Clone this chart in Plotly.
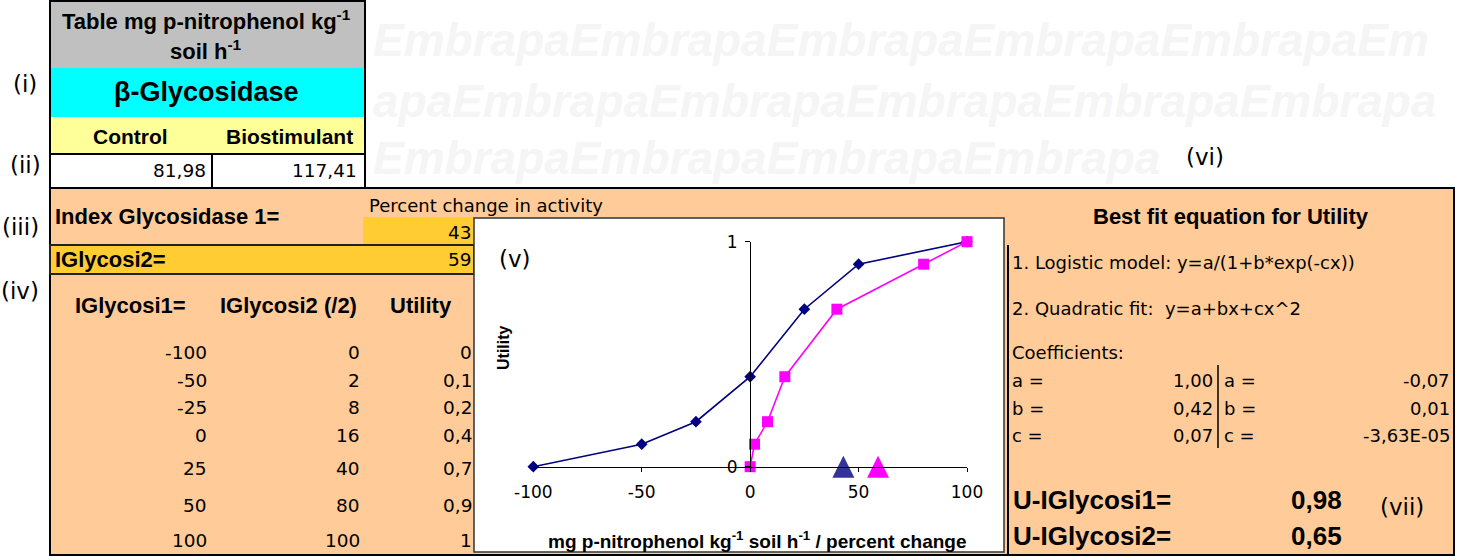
import plotly.graph_objects as go

W, H = 1457, 556

# ---------------- data ----------------
ig1_values = [-100, -50, -25, 0, 25, 50, 100]
ig2_values = [0, 2, 8, 16, 40, 80, 100]
utility_values = [0, 0.1, 0.2, 0.4, 0.7, 0.9, 1]
index1_value = 43
index2_value = 59
control_value = 81.98
biostim_value = 117.41
logistic_coefs = [1.00, 0.42, 0.07]
quadratic_coefs = ["-0,07", "0,01", "-3,63E-05"]
coef_names = ["a =", "b =", "c ="]
u_ig1 = 0.98
u_ig2 = 0.65
x_ticks = [-100, -50, 0, 50, 100]
y_ticks = [0, 1]

REG = "DejaVu Sans"
BOLD = "Liberation Sans"


def fmt(v, d=None):
    s = (f"{v:.{d}f}" if d is not None else f"{v:g}")
    return s.replace(".", ",")


def X(px):
    return px / W


def Y(py):
    return 1 - py / H


shapes = []


def rect(x0, y0, x1, y1, fill, lc=None, lw=0):
    shapes.append(dict(type="rect", xref="paper", yref="paper",
                       x0=X(x0), x1=X(x1), y0=Y(y1), y1=Y(y0),
                       fillcolor=fill, layer="below",
                       line=dict(color=lc or "rgba(0,0,0,0)", width=lw)))


def line(x0, y0, x1, y1, lc="black", lw=2):
    shapes.append(dict(type="line", xref="paper", yref="paper",
                       x0=X(x0), x1=X(x1), y0=Y(y0), y1=Y(y1), layer="below",
                       line=dict(color=lc, width=lw)))


annotations = []


def txt(s, px, py, size, bold=False, anchor="left", color="black", family=None, angle=0, italic=False):
    fam = family or (BOLD if bold else REG)
    if bold:
        s = f"<b>{s}</b>"
    if italic:
        s = f"<i>{s}</i>"
    annotations.append(dict(text=s, x=X(px), y=Y(py), xref="paper", yref="paper",
                            xanchor=anchor, yanchor="middle", showarrow=False,
                            textangle=angle, borderpad=0,
                            font=dict(family=fam, size=size, color=color)))


# ---------------- watermark ----------------
wm = "#F5F5F5"
txt("EmbrapaEmbrapaEmbrapaEmbrapaEmbrapaEm", 372, 40, 46, bold=True, italic=True, color=wm)
txt("apaEmbrapaEmbrapaEmbrapaEmbrapaEmbrapa", 372, 101, 46, bold=True, italic=True, color=wm)
txt("EmbrapaEmbrapaEmbrapaEmbrapa", 372, 158, 46, bold=True, italic=True, color=wm)

# ---------------- top table ----------------
rect(50, 0, 365, 68, "#C0C0C0")
rect(50, 68, 365, 117, "#00FFFF")
rect(50, 117, 365, 154, "#FFFF99")
rect(50, 154, 365, 188, "white")
rect(50, 1, 365, 188, "rgba(0,0,0,0)", "black", 2)
line(50, 154, 365, 154)
line(212, 154, 212, 188)

txt("Table mg p-nitrophenol kg<sup>-1</sup>", 206, 20, 22, bold=True, anchor="center")
txt("soil h<sup>-1</sup>", 206, 50, 22, bold=True, anchor="center")
txt("β-Glycosidase", 206, 92, 27, bold=True, anchor="center")
txt("Control", 130, 136, 21, bold=True, anchor="center")
txt("Biostimulant", 289, 136, 21, bold=True, anchor="center")
txt(fmt(control_value, 2), 207, 170, 18.5, anchor="right")
txt(fmt(biostim_value, 2), 358, 170, 18.5, anchor="right")

# ---------------- orange panel ----------------
rect(50, 188, 1454, 555, "#FFCC99", "black", 2)
rect(363, 217, 474, 245, "#FFCC33")
rect(50, 245, 474, 274, "#FFCC33", "#222222", 2)
rect(474, 218, 1004, 552, "white", "#333333", 1.5)
line(1008, 245, 1008, 555)
line(1218, 365, 1218, 448, lw=1.5)

txt("Index Glycosidase 1=", 54, 216, 22, bold=True)
txt("Percent change in activity", 368, 206, 18)
txt(fmt(index1_value), 473, 232, 18.5, anchor="right")
txt("IGlycosi2=", 54, 259, 22, bold=True)
txt(fmt(index2_value), 473, 259, 18.5, anchor="right")

txt("IGlycosi1=", 130, 305, 22, bold=True, anchor="center")
txt("IGlycosi2 (/2)", 288, 305, 22, bold=True, anchor="center")
txt("Utility", 421, 305, 22, bold=True, anchor="center")

row_y = [352, 380, 407, 435, 468, 505, 540]
for a, b, u, ry in zip(ig1_values, ig2_values, utility_values, row_y):
    txt(fmt(a), 208, ry, 18.5, anchor="right")
    txt(fmt(b), 361, ry, 18.5, anchor="right")
    txt(fmt(u), 473, ry, 18.5, anchor="right")

# labels
txt("(i)", 25, 84, 23, anchor="center")
txt("(ii)", 25, 165, 23, anchor="center")
txt("(iii)", 20, 227, 23, anchor="center")
txt("(iv)", 20, 291, 23, anchor="center")
txt("(v)", 515, 259, 23, anchor="center")
txt("(vi)", 1205, 157, 23, anchor="center")
txt("(vii)", 1402, 507, 23, anchor="center")

# ---------------- right panel ----------------
txt("Best fit equation for Utility", 1231, 216, 22, bold=True, anchor="center")
txt("1. Logistic model: y=a/(1+b*exp(-cx))", 1011, 262, 18)
txt("2. Quadratic fit:  y=a+bx+cx^2", 1011, 308, 18)
txt("Coefficients:", 1011, 352, 18)
coef_y = [380, 408, 435]
for name, lv, qv, cy in zip(coef_names, logistic_coefs, quadratic_coefs, coef_y):
    txt(name, 1011, cy, 18)
    txt(fmt(lv, 2), 1214, cy, 18, anchor="right")
    txt(name, 1223, cy, 18)
    txt(qv, 1451, cy, 18, anchor="right")
txt("U-IGlycosi1=", 1012, 500, 26, bold=True)
txt(fmt(u_ig1, 2), 1343, 500, 26, bold=True, anchor="right")
txt("U-IGlycosi2=", 1012, 536, 26, bold=True)
txt(fmt(u_ig2, 2), 1343, 536, 26, bold=True, anchor="right")

# chart titles
txt("Utility", 503, 348, 16, bold=True, anchor="center", angle=-90)
txt("mg p-nitrophenol kg<sup>-1</sup> soil h<sup>-1</sup> / percent change", 757, 540, 19,
    bold=True, anchor="center")

# ---------------- chart ----------------
xdom = [X(533.3), X(967)]
ydom = [Y(466.7), Y(241.7)]
xr = [-100, 100]
ypos = xdom[0] + (0 - xr[0]) / (xr[1] - xr[0]) * (xdom[1] - xdom[0])

fig = go.Figure()
fig.add_trace(go.Scatter(x=ig1_values, y=utility_values, mode="lines+markers",
                         line=dict(color="#000080", width=1.6),
                         marker=dict(symbol="diamond", size=9, color="#000080"),
                         cliponaxis=False, showlegend=False))
fig.add_trace(go.Scatter(x=ig2_values, y=utility_values, mode="lines+markers",
                         line=dict(color="#FF00FF", width=1.6),
                         marker=dict(symbol="square", size=11, color="#FF00FF"),
                         cliponaxis=False, showlegend=False))
fig.add_trace(go.Scatter(x=[index1_value], y=[0], mode="markers",
                         marker=dict(symbol="arrow-down", angle=180, standoff=11, size=22,
                                     color="#333399"),
                         cliponaxis=False, showlegend=False))
fig.add_trace(go.Scatter(x=[index2_value], y=[0], mode="markers",
                         marker=dict(symbol="arrow-down", angle=180, standoff=11, size=22,
                                     color="#FF00FF"),
                         cliponaxis=False, showlegend=False))

fig.update_layout(
    width=W, height=H, margin=dict(l=0, r=0, t=0, b=0, autoexpand=False),
    paper_bgcolor="white", plot_bgcolor="rgba(0,0,0,0)",
    shapes=shapes, annotations=annotations, showlegend=False,
    xaxis=dict(domain=xdom, range=xr, showline=True, linecolor="black", linewidth=1.3,
               ticks="outside", ticklen=4, tickcolor="black", tickvals=x_ticks,
               ticktext=[fmt(v) for v in x_ticks], ticklabelstandoff=6,
               tickfont=dict(family=REG, size=17, color="black"),
               showgrid=False, zeroline=False, fixedrange=True),
    yaxis=dict(domain=ydom, range=[0, 1], anchor="free", position=ypos,
               showline=True, linecolor="black", linewidth=1.3,
               ticks="outside", ticklen=5, tickcolor="black", tickvals=y_ticks,
               ticktext=[fmt(v) for v in y_ticks], ticklabelstandoff=4,
               tickfont=dict(family=REG, size=17, color="black"),
               showgrid=False, zeroline=False, fixedrange=True),
)

fig.write_html("out.html", config={"displayModeBar": False},
               post_script="document.body.style.margin='0px';")
